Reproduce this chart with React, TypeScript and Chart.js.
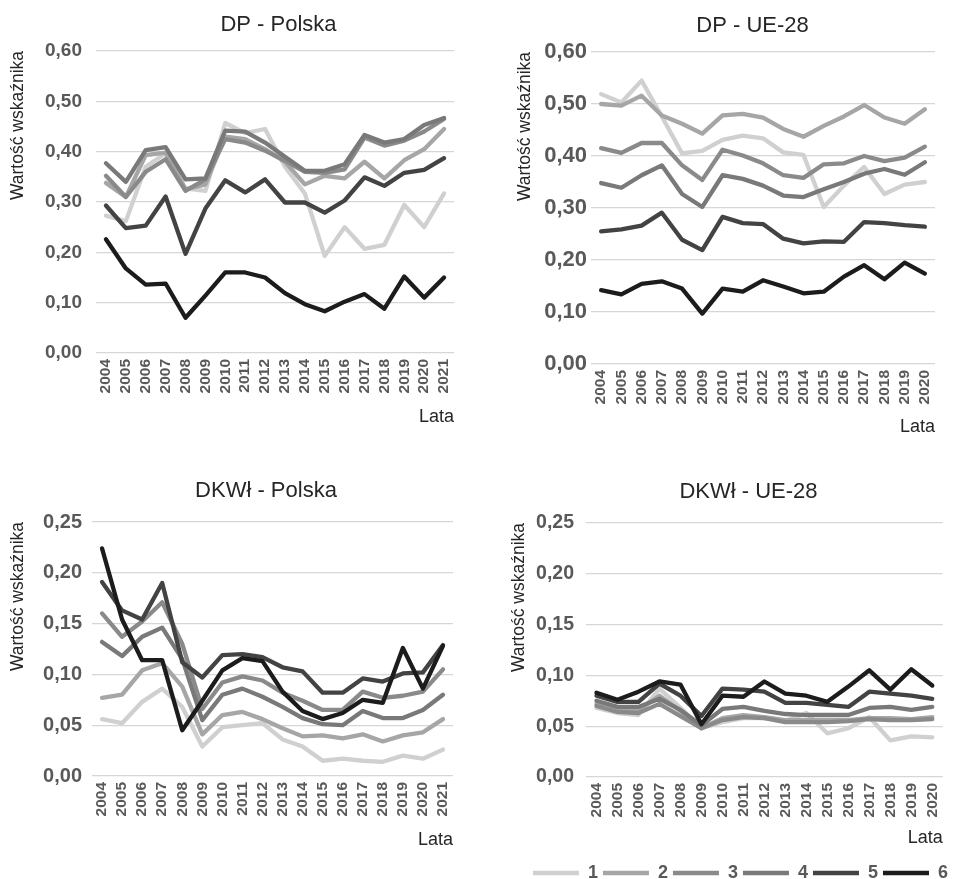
import React, { useEffect, useRef } from "react";
import { Chart, registerables } from "chart.js";

Chart.register(...registerables);

// ---------- data ----------
const YEARS_PL = ["2004", "2005", "2006", "2007", "2008", "2009", "2010", "2011", "2012", "2013", "2014", "2015", "2016", "2017", "2018", "2019", "2020", "2021"];
const YEARS_EU = ["2004", "2005", "2006", "2007", "2008", "2009", "2010", "2011", "2012", "2013", "2014", "2015", "2016", "2017", "2018", "2019", "2020"];
const SERIES_NAMES = ["1", "2", "3", "4", "5", "6"];

// DP - Polska
const dpPl1 = [0.273, 0.262, 0.37, 0.397, 0.327, 0.322, 0.457, 0.437, 0.445, 0.37, 0.317, 0.193, 0.25, 0.207, 0.215, 0.294, 0.25, 0.317];
const dpPl2 = [0.338, 0.31, 0.393, 0.398, 0.325, 0.335, 0.43, 0.425, 0.405, 0.38, 0.335, 0.352, 0.347, 0.38, 0.347, 0.383, 0.405, 0.445];
const dpPl3 = [0.352, 0.31, 0.36, 0.385, 0.322, 0.345, 0.425, 0.418, 0.402, 0.382, 0.36, 0.358, 0.365, 0.428, 0.412, 0.422, 0.44, 0.465];
const dpPl4 = [0.377, 0.34, 0.403, 0.409, 0.345, 0.347, 0.442, 0.44, 0.418, 0.39, 0.362, 0.362, 0.375, 0.433, 0.418, 0.425, 0.453, 0.467];
const dpPl5 = [0.293, 0.248, 0.253, 0.311, 0.197, 0.287, 0.343, 0.319, 0.345, 0.299, 0.299, 0.279, 0.303, 0.349, 0.332, 0.358, 0.364, 0.387];
const dpPl6 = [0.226, 0.168, 0.136, 0.138, 0.07, 0.114, 0.16, 0.16, 0.15, 0.119, 0.097, 0.083, 0.102, 0.117, 0.088, 0.152, 0.11, 0.15];

// DP - UE-28
const dpEu1 = [0.519, 0.503, 0.545, 0.476, 0.405, 0.41, 0.431, 0.439, 0.434, 0.407, 0.402, 0.302, 0.343, 0.379, 0.327, 0.345, 0.35];
const dpEu2 = [0.5, 0.497, 0.516, 0.478, 0.462, 0.443, 0.478, 0.481, 0.474, 0.452, 0.437, 0.458, 0.476, 0.498, 0.474, 0.462, 0.49];
const dpEu3 = [0.415, 0.406, 0.425, 0.425, 0.382, 0.354, 0.412, 0.401, 0.386, 0.363, 0.358, 0.384, 0.386, 0.4, 0.39, 0.397, 0.418];
const dpEu4 = [0.348, 0.339, 0.363, 0.382, 0.327, 0.302, 0.363, 0.356, 0.343, 0.324, 0.321, 0.336, 0.35, 0.366, 0.375, 0.364, 0.388];
const dpEu5 = [0.255, 0.259, 0.266, 0.291, 0.239, 0.219, 0.283, 0.271, 0.269, 0.241, 0.232, 0.236, 0.235, 0.273, 0.271, 0.267, 0.264];
const dpEu6 = [0.142, 0.134, 0.154, 0.159, 0.145, 0.097, 0.145, 0.139, 0.161, 0.149, 0.136, 0.139, 0.168, 0.19, 0.163, 0.195, 0.174];

// DKWł - Polska
const dkPl1 = [0.056, 0.052, 0.073, 0.086, 0.068, 0.029, 0.048, 0.05, 0.052, 0.036, 0.029, 0.015, 0.017, 0.015, 0.014, 0.02, 0.017, 0.026];
const dkPl2 = [0.077, 0.08, 0.104, 0.111, 0.088, 0.041, 0.06, 0.063, 0.056, 0.047, 0.039, 0.04, 0.037, 0.041, 0.034, 0.04, 0.043, 0.056];
const dkPl3 = [0.16, 0.137, 0.152, 0.171, 0.13, 0.066, 0.092, 0.098, 0.094, 0.082, 0.074, 0.065, 0.065, 0.083, 0.077, 0.079, 0.083, 0.105];
const dkPl4 = [0.132, 0.118, 0.137, 0.146, 0.115, 0.055, 0.08, 0.086, 0.078, 0.068, 0.057, 0.051, 0.05, 0.064, 0.057, 0.057, 0.065, 0.08];
const dkPl5 = [0.191, 0.163, 0.154, 0.19, 0.112, 0.097, 0.119, 0.12, 0.117, 0.107, 0.103, 0.082, 0.082, 0.096, 0.093, 0.101, 0.102, 0.129];
const dkPl6 = [0.224, 0.154, 0.114, 0.114, 0.045, 0.074, 0.104, 0.116, 0.113, 0.083, 0.064, 0.056, 0.062, 0.075, 0.072, 0.126, 0.086, 0.128];

// DKWł - UE-28
const dkEu1 = [0.068, 0.063, 0.061, 0.087, 0.068, 0.048, 0.054, 0.058, 0.058, 0.055, 0.063, 0.043, 0.048, 0.059, 0.036, 0.04, 0.039];
const dkEu2 = [0.072, 0.066, 0.066, 0.08, 0.065, 0.048, 0.058, 0.061, 0.059, 0.056, 0.056, 0.056, 0.056, 0.058, 0.058, 0.057, 0.059];
const dkEu3 = [0.07, 0.064, 0.063, 0.072, 0.06, 0.048, 0.056, 0.059, 0.058, 0.054, 0.054, 0.054, 0.055, 0.057, 0.056, 0.056, 0.057];
const dkEu4 = [0.075, 0.069, 0.069, 0.077, 0.066, 0.051, 0.067, 0.069, 0.065, 0.062, 0.061, 0.061, 0.061, 0.068, 0.069, 0.066, 0.069];
const dkEu5 = [0.08, 0.074, 0.074, 0.092, 0.08, 0.06, 0.087, 0.086, 0.084, 0.073, 0.073, 0.071, 0.069, 0.084, 0.082, 0.08, 0.077];
const dkEu6 = [0.083, 0.076, 0.084, 0.094, 0.091, 0.052, 0.08, 0.079, 0.094, 0.082, 0.08, 0.074, 0.089, 0.105, 0.086, 0.106, 0.09];

const DP_MAX = 0.6;
const DP_STEP = 0.1;
const DK_MAX = 0.25;
const DK_STEP = 0.05;

// ---------- styles ----------
const FONT = "'Liberation Sans', Arial, sans-serif";
const SERIES_COLORS = ["#d0d0d0", "#a6a6a6", "#8a8a8a", "#797979", "#434343", "#1c1c1c"];
const TICK_COLOR = "#595959";
const TEXT_COLOR = "#262626";

type Panel = {
  title: string;
  years: string[];
  series: number[][];
  yMax: number;
  yStep: number;
  left: number;
  top: number;
  width: number;
  height: number;
  padTop: number;
  padRight: number;
  yWidth: number;
  yTickPad: number;
  yTickSize: number;
  yTitlePad: number;
  xHeight: number;
  lataPad: number;
  titleX: number;
  titleY: number;
  legend: boolean;
};

const PANELS: Panel[] = [
  {
    title: "DP - Polska", years: YEARS_PL, series: [dpPl1, dpPl2, dpPl3, dpPl4, dpPl5, dpPl6], yMax: DP_MAX, yStep: DP_STEP,
    left: 0, top: 0, width: 480, height: 440, padTop: 51, padRight: 26,
    yWidth: 96, yTickPad: 14, yTickSize: 19, yTitlePad: 7.5, xHeight: 87, lataPad: 12,
    titleX: 278.5, titleY: 25, legend: false,
  },
  {
    title: "DP - UE-28", years: YEARS_EU, series: [dpEu1, dpEu2, dpEu3, dpEu4, dpEu5, dpEu6], yMax: DP_MAX, yStep: DP_STEP,
    left: 480, top: 0, width: 477, height: 440, padTop: 52, padRight: 22,
    yWidth: 111, yTickPad: 4, yTickSize: 22, yTitlePad: 34.5, xHeight: 76, lataPad: 2,
    titleX: 272.5, titleY: 25.5, legend: false,
  },
  {
    title: "DKWł - Polska", years: YEARS_PL, series: [dkPl1, dkPl2, dkPl3, dkPl4, dkPl5, dkPl6], yMax: DK_MAX, yStep: DK_STEP,
    left: 0, top: 440, width: 480, height: 439, padTop: 82, padRight: 27,
    yWidth: 92, yTickPad: 10, yTickSize: 20, yTitlePad: 7.5, xHeight: 103, lataPad: 28,
    titleX: 266, titleY: 51, legend: false,
  },
  {
    title: "DKWł - UE-28", years: YEARS_EU, series: [dkEu1, dkEu2, dkEu3, dkEu4, dkEu5, dkEu6], yMax: DK_MAX, yStep: DK_STEP,
    left: 480, top: 440, width: 477, height: 452, padTop: 83, padRight: 4,
    yWidth: 106, yTickPad: 12, yTickSize: 19.5, yTitlePad: 28.5, xHeight: 82, lataPad: 10,
    titleX: 268.5, titleY: 51.7, legend: true,
  },
];

function PanelChart({ panel }: { panel: Panel }) {
  const ref = useRef<HTMLCanvasElement | null>(null);

  useEffect(() => {
    if (!ref.current) return;
    const titlePlugin = {
      id: "panelTitle",
      afterDraw(chart: any) {
        const ctx = chart.ctx;
        ctx.save();
        ctx.font = `22px ${FONT}`;
        ctx.fillStyle = TEXT_COLOR;
        ctx.textAlign = "center";
        ctx.textBaseline = "middle";
        ctx.fillText(panel.title, panel.titleX, panel.titleY);
        ctx.restore();
      },
    };

    const chart = new Chart(ref.current, {
      type: "line",
      data: {
        labels: panel.years,
        datasets: panel.series.map((values, i) => ({
          label: SERIES_NAMES[i],
          data: values,
          borderColor: SERIES_COLORS[i],
          backgroundColor: SERIES_COLORS[i],
          borderWidth: 4.3,
          pointRadius: 0,
          pointHoverRadius: 0,
          tension: 0,
          fill: false,
          borderJoinStyle: "round",
          borderCapStyle: "round",
          order: SERIES_NAMES.length - 1 - i,
        })),
      },
      options: {
        responsive: false,
        maintainAspectRatio: false,
        animation: false,
        devicePixelRatio: 1,
        layout: { padding: { top: panel.padTop, right: panel.padRight, left: 0, bottom: 0 } },
        plugins: {
          tooltip: { enabled: false },
          title: { display: false },
          legend: panel.legend
            ? {
                display: true,
                position: "bottom",
                align: "end",
                labels: {
                  usePointStyle: true,
                  pointStyle: "line",
                  pointStyleWidth: 46,
                  boxWidth: 46,
                  boxHeight: 18,
                  padding: 5,
                  color: TICK_COLOR,
                  font: { family: FONT, size: 18, weight: "bold" },
                  sort: (a: any, b: any) => a.datasetIndex - b.datasetIndex,
                },
              }
            : { display: false },
        },
        scales: {
          x: {
            type: "category",
            offset: true,
            grid: { display: false, drawTicks: false },
            border: { display: false },
            ticks: {
              autoSkip: false,
              minRotation: 90,
              maxRotation: 90,
              padding: 6,
              color: TICK_COLOR,
              font: { family: FONT, size: 15.5, weight: "bold" },
            },
            title: {
              display: true,
              text: "Lata",
              align: "end",
              color: TEXT_COLOR,
              padding: { top: 0, bottom: panel.lataPad },
              font: { family: FONT, size: 18 },
            },
            afterFit: (scale: any) => {
              scale.height = panel.xHeight;
            },
          },
          y: {
            min: 0,
            max: panel.yMax,
            grid: { color: "#d6d6d6", lineWidth: 1.3, drawTicks: false },
            border: { display: false },
            ticks: {
              stepSize: panel.yStep,
              padding: panel.yTickPad,
              color: TICK_COLOR,
              font: { family: FONT, size: panel.yTickSize, weight: "bold" },
              callback: (v: any) => Number(v).toFixed(2).replace(".", ","),
            },
            title: {
              display: true,
              text: "Wartość wskaźnika",
              align: "end",
              color: TEXT_COLOR,
              padding: { top: panel.yTitlePad, bottom: 0 },
              font: { family: FONT, size: 17.5 },
            },
            afterFit: (scale: any) => {
              scale.width = panel.yWidth;
            },
          },
        },
      },
      plugins: [titlePlugin],
    } as any);

    return () => chart.destroy();
  }, [panel]);

  return (
    <canvas
      ref={ref}
      width={panel.width}
      height={panel.height}
      style={{ position: "absolute", left: panel.left, top: panel.top, width: panel.width, height: panel.height }}
    />
  );
}

export default function App() {
  return (
    <div
      style={{
        position: "absolute",
        left: 0,
        top: 0,
        width: 957,
        height: 879,
        overflow: "hidden",
        background: "#ffffff",
      }}
    >
      {PANELS.map((p) => (
        <PanelChart key={p.title} panel={p} />
      ))}
    </div>
  );
}
